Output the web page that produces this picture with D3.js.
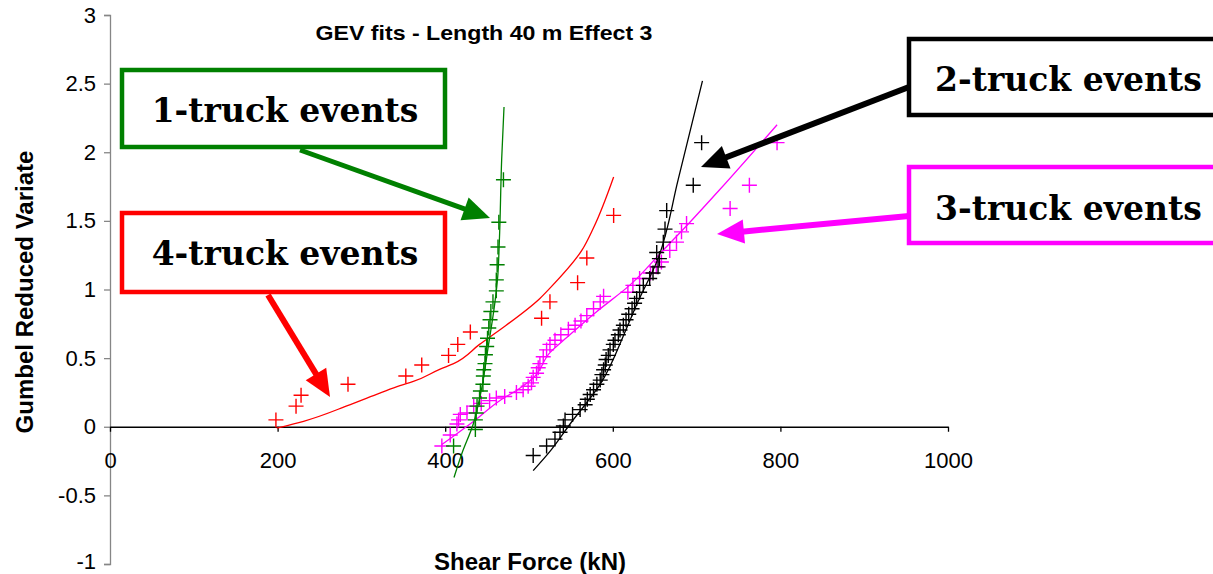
<!DOCTYPE html>
<html>
<head>
<meta charset="utf-8">
<script src="https://cdn.jsdelivr.net/npm/d3@7"></script>
<style>
  body { margin: 0; background: #fff; }
  svg { display: block; }
</style>
</head>
<body>
<svg width="1213" height="574"></svg>
<script>
// observed points [shear force kN, gumbel reduced variate]
const oneTruckPts = [[410,-0.14],[436,-0.02],[436,0.05],[437,0.10],[438,0.15],[441,0.21],[442,0.26],[445,0.31],
  [445.5,0.37],[446,0.415],[447.5,0.46],[448,0.525],[449.5,0.585],[450.5,0.645],[452,0.72],[453.5,0.78],
  [454.5,0.84],[457,0.91],[461,0.99],[461,1.07],[462,1.18],[463,1.31],[464,1.49],[469.5,1.80]];
const twoTruckPts = [[505,-0.21],[521,-0.14],[531,-0.09],[537,-0.04],[541,0.005],[543,0.05],[552,0.09],[561,0.125],
  [567,0.16],[569.6,0.20],[573,0.235],[577,0.27],[581,0.31],[585,0.34],[587,0.38],[589,0.415],[591,0.45],
  [592,0.49],[594.6,0.52],[596.7,0.56],[600.6,0.60],[602.6,0.63],[606.6,0.67],[608.6,0.705],[612.6,0.74],
  [615.8,0.78],[619,0.82],[623,0.86],[626,0.90],[628.5,0.935],[632,0.98],[636.4,1.03],[644,1.08],[648,1.12],
  [654,1.165],[655.6,1.225],[652.4,1.27],[660.3,1.345],[662.3,1.44],[664.3,1.575],[696,1.76],[706,2.07]];
const threeTruckPts = [[396,-0.14],[406,-0.06],[414,0.02],[416,0.05],[418,0.09],[426,0.10],[434,0.15],[443,0.17],
  [453,0.19],[461,0.21],[471,0.22],[485,0.25],[493,0.27],[499,0.295],[503,0.32],[505,0.36],[509,0.39],
  [511,0.43],[513,0.46],[517,0.51],[521,0.56],[525,0.60],[531,0.63],[538,0.67],[547,0.71],[555,0.74],
  [562,0.77],[569,0.81],[577,0.86],[585,0.91],[589,0.95],[618,0.98],[624,1.03],[632,1.08],[645,1.12],
  [652,1.165],[658,1.20],[668,1.285],[676,1.345],[682,1.42],[688,1.48],[740,1.59],[763,1.76],[796,2.07]];
const fourTruckPts = [[198,0.05],[222,0.15],[228,0.23],[284,0.31],[353,0.37],[372,0.45],[404,0.52],[415,0.60],
  [430,0.69],[515,0.79],[525,0.91],[558,1.05],[569,1.23],[601,1.54]];

// GEV fit curves
const oneTruckFit = [[410.5,-0.37],[419.6,-0.2],[433.5,0.02],[443.5,0.28],[451.4,0.585],[459.4,0.91],[462.5,1.08],
  [464.6,1.35],[467.4,1.95],[470.2,2.33]];
const twoTruckFit = [[505,-0.32],[525,-0.18],[549,0.02],[585,0.31],[616.6,0.72],[628.5,0.89],[654,1.225],
  [678,1.80],[707,2.52]];
const threeTruckFit = [[396,-0.13],[434,0.04],[465,0.19],[489,0.28],[505,0.355],[525,0.54],[545,0.65],[581,0.84],
  [620,1.03],[660,1.285],[692,1.49],[728,1.73],[796,2.20]];
const fourTruckFit = [[199,-0.01],[231,0.04],[286,0.16],[322,0.245],[346,0.30],[362,0.33],[394,0.42],[410,0.46],
  [441,0.60],[465,0.705],[513,0.935],[525,1.01],[563,1.285],[577,1.45],[601,1.82]];

const xTicks = [0, 200, 400, 600, 800, 1000];
const yTicks = [-1, -0.5, 0, 0.5, 1, 1.5, 2, 2.5, 3];

const series = [
  { pts: threeTruckPts, fit: threeTruckFit, color: "#ff00ff" },
  { pts: twoTruckPts, fit: twoTruckFit, color: "#000000" },
  { pts: fourTruckPts, fit: fourTruckFit, color: "#ff0000" },
  { pts: oneTruckPts, fit: oneTruckFit, color: "#008000" }
];

const sans = "Liberation Sans, Arial, sans-serif";
const svg = d3.select("svg");
const x = d3.scaleLinear().domain([0, 1000]).range([110, 948]);
const y = d3.scaleLinear().domain([-1, 3]).range([564, 15]);

// y axis (grey)
const yAxis = svg.append("g")
  .attr("transform", `translate(${x(0)},0)`)
  .call(d3.axisLeft(y).tickValues(yTicks).tickSize(6).tickPadding(8).tickFormat(d => String(d)));
yAxis.select(".domain").attr("stroke", "#868686").attr("stroke-width", 1.3);
yAxis.selectAll(".tick line").attr("stroke", "#868686").attr("stroke-width", 1.3);
yAxis.selectAll("text").style("font-size", "22px").style("font-family", sans).attr("fill", "#000");
// keep the bottom label inside the frame
yAxis.selectAll(".tick").filter(d => d === -1).select("text").attr("y", -3);

// x axis at y = 0
const xAxis = svg.append("g")
  .attr("transform", `translate(0,${y(0)})`)
  .call(d3.axisBottom(x).tickValues(xTicks).tickSize(5).tickSizeOuter(0).tickPadding(21).tickFormat(d => String(d)));
xAxis.select(".domain").attr("stroke", "#000").attr("stroke-width", 1.3);
xAxis.selectAll(".tick line").attr("stroke", "#000").attr("stroke-width", 1.3);
xAxis.selectAll("text").style("font-size", "22px").style("font-family", sans).attr("fill", "#000");

// fits and points
const line = d3.line().x(d => x(d[0])).y(d => y(d[1])).curve(d3.curveMonotoneY);
const plot = svg.append("g");
series.forEach(s => {
  plot.append("path").datum(s.fit)
    .attr("d", line)
    .attr("fill", "none")
    .attr("stroke", s.color)
    .attr("stroke-width", 1.3);
  plot.append("g").selectAll("path").data(s.pts).join("path")
    .attr("transform", d => `translate(${x(d[0])},${y(d[1])})`)
    .attr("d", "M-7.5,0H7.5M0,-7.5V7.5")
    .attr("stroke", s.color)
    .attr("stroke-width", 1.4)
    .attr("fill", "none");
});

// titles
svg.append("text").attr("x", 484).attr("y", 40).attr("text-anchor", "middle")
  .attr("textLength", 337).attr("lengthAdjust", "spacingAndGlyphs")
  .style("font-family", sans).style("font-size", "21px").style("font-weight", "bold")
  .text("GEV fits - Length 40 m Effect 3");
svg.append("text").attr("transform", "translate(33,292) rotate(-90)").attr("text-anchor", "middle")
  .style("font-family", sans).style("font-size", "24px").style("font-weight", "bold")
  .text("Gumbel Reduced Variate");
svg.append("text").attr("x", 530).attr("y", 570).attr("text-anchor", "middle")
  .style("font-family", sans).style("font-size", "24px").style("font-weight", "bold")
  .text("Shear Force (kN)");

// annotation boxes and arrows
const notes = [
  { label: "1-truck events", color: "#008000", box: [122, 70, 323, 77], tx: 285, ty: 122, from: [300, 150], to: [490, 218], w: 5 },
  { label: "4-truck events", color: "#ff0000", box: [122, 213, 323, 79], tx: 285, ty: 265, from: [268, 295], to: [330, 397], w: 6 },
  { label: "2-truck events", color: "#000000", box: [909, 39, 320, 76], tx: 935, ty: 91, from: [909, 87], to: [701, 167], w: 6, left: true },
  { label: "3-truck events", color: "#ff00ff", box: [909, 167, 320, 76], tx: 935, ty: 220, from: [909, 216], to: [717, 234], w: 6, left: true }
];

const ann = svg.append("g");
notes.forEach(n => {
  const [fx, fy] = n.from, [tx, ty] = n.to;
  const ang = Math.atan2(ty - fy, tx - fx);
  const headLen = 27, headHalf = 12;
  const bx = tx - headLen * Math.cos(ang), by = ty - headLen * Math.sin(ang);
  ann.append("line")
    .attr("x1", fx).attr("y1", fy).attr("x2", bx + 2 * Math.cos(ang)).attr("y2", by + 2 * Math.sin(ang))
    .attr("stroke", n.color).attr("stroke-width", n.w);
  const px = -Math.sin(ang), py = Math.cos(ang);
  ann.append("path")
    .attr("d", `M${tx},${ty}L${bx + headHalf * px},${by + headHalf * py}L${bx - headHalf * px},${by - headHalf * py}Z`)
    .attr("fill", n.color);
  ann.append("rect")
    .attr("x", n.box[0]).attr("y", n.box[1]).attr("width", n.box[2]).attr("height", n.box[3])
    .attr("fill", "#fff").attr("stroke", n.color).attr("stroke-width", 4.5);
  ann.append("text")
    .attr("x", n.tx).attr("y", n.ty)
    .attr("text-anchor", n.left ? "start" : "middle")
    .style("font-family", "DejaVu Serif, serif")
    .style("font-weight", "bold")
    .style("font-size", "33px")
    .attr("fill", "#000")
    .text(n.label);
});
</script>
</body>
</html>
